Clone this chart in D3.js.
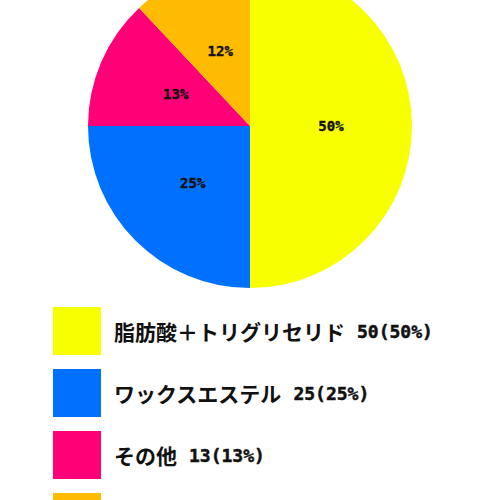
<!DOCTYPE html>
<html>
<head>
<meta charset="utf-8">
<script src="https://cdn.jsdelivr.net/npm/d3@7"></script>
<style>
  body { margin: 0; background: #fff; }
  svg { display: block; }
  text { font-family: "DejaVu Sans Mono", "Noto Sans CJK JP", monospace; font-weight: bold; fill: #111; }
  .cjk { font-family: "Noto Sans CJK JP", sans-serif; }
</style>
</head>
<body>
<div id="chart"></div>
<script>
const categories = ['脂肪酸＋トリグリセリド', 'ワックスエステル', 'その他', 'ステロール'];
const values = [50, 25, 13, 12];
const colors = ['#f8ff00', '#0070ff', '#ff0077', '#ffbb00'];

function drawPie() {
    const width = 500, height = 500;
    const radius = 162;
    const total = d3.sum(values);

    const svg = d3.select('#chart')
        .append('svg')
        .attr('width', width)
        .attr('height', height);

    const data = categories.map(function(c, i) {
        return { name: c, value: values[i], color: colors[i] };
    });

    const pie = d3.pie()
        .sort(null)
        .value(function(d) { return d.value; });

    const arc = d3.arc()
        .innerRadius(0)
        .outerRadius(radius);

    const g = svg.append('g')
        .attr('transform', 'translate(250,126)');

    const slices = g.selectAll('g.slice')
        .data(pie(data))
        .enter()
        .append('g')
        .attr('class', 'slice');

    slices.append('path')
        .attr('d', arc)
        .attr('fill', function(d) { return d.data.color; });

    slices.append('text')
        .attr('transform', function(d) { return 'translate(' + arc.centroid(d) + ')'; })
        .attr('text-anchor', 'middle')
        .attr('dominant-baseline', 'central')
        .attr('font-size', 14)
        .style('stroke', '#111')
        .style('stroke-width', 0.4)
        .text(function(d) { return Math.round(d.data.value / total * 100) + '%'; });

    // legend
    const y = d3.scaleBand()
        .domain(categories)
        .range([300, 300 + 62 * categories.length])
        .paddingInner(0.226)
        .paddingOuter(0.113);

    const legend = svg.selectAll('g.legend')
        .data(data)
        .enter()
        .append('g')
        .attr('class', 'legend')
        .attr('transform', function(d) { return 'translate(53,' + y(d.name) + ')'; });

    legend.append('rect')
        .attr('width', 48)
        .attr('height', y.bandwidth())
        .attr('fill', function(d) { return d.color; });

    const label = legend.append('text')
        .attr('x', 61)
        .attr('y', y.bandwidth() / 2)
        .attr('dominant-baseline', 'central');

    label.append('tspan')
        .attr('class', 'cjk')
        .attr('font-size', 21)
        .text(function(d) { return d.name; });

    label.append('tspan')
        .attr('font-size', 18)
        .attr('dx', 12)
        .style('stroke', '#111')
        .style('stroke-width', 0.5)
        .text(function(d) {
            return d.value + '(' + Math.round(d.value / total * 100) + '%)';
        });
}

document.addEventListener('DOMContentLoaded', drawPie);
</script>
</body>
</html>
